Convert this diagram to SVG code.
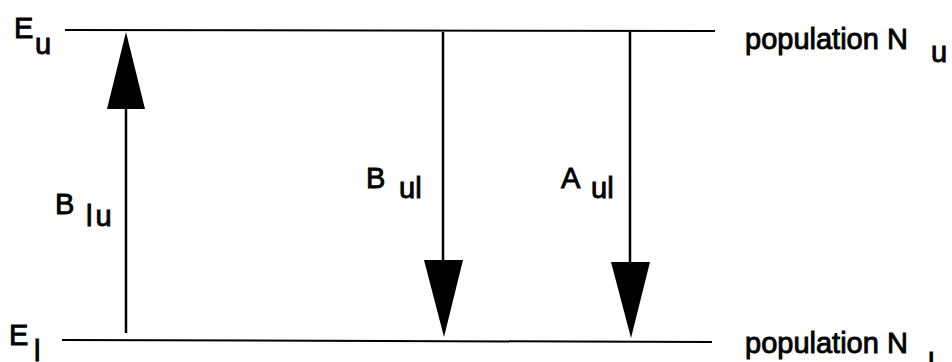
<svg xmlns="http://www.w3.org/2000/svg" width="952" height="362" viewBox="0 0 952 362">
<style>
.lvl{stroke:#000;stroke-width:2;fill:none}
.ln{stroke:#000;stroke-width:2.5;fill:none}
.hd{fill:#000;stroke:none}
text{font-family:"Liberation Sans",Arial,sans-serif;fill:#000;font-size:29px;stroke:#000;stroke-width:0.9}
</style>
<rect width="952" height="362" fill="#fff"/>
<g id="level-upper">
<line class="lvl" x1="65" y1="30" x2="715" y2="31"/>
<text x="14" y="38">E</text>
<text x="35" y="54">u</text>
<text x="745" y="49">population N</text>
<text x="931" y="62">u</text>
</g>
<g id="level-lower">
<line class="lvl" x1="62" y1="340" x2="712" y2="342"/>
<text x="9" y="345">E</text>
<text x="34" y="361">l</text>
<text x="745" y="353">population N</text>
<text x="928" y="374">l</text>
</g>
<g id="connectors">
<g id="B_lu">
<line class="ln" x1="126" y1="333" x2="126" y2="105"/>
<polygon class="hd" points="126,32 145,109 107,109"/>
<text x="55" y="214">B</text>
<text x="86" y="226" letter-spacing="3">lu</text>
</g>
<g id="B_ul">
<line class="ln" x1="443" y1="32" x2="443" y2="265"/>
<polygon class="hd" points="424,260 463,260 444,337"/>
<text x="366" y="188">B</text>
<text x="399" y="198">ul</text>
</g>
<g id="A_ul">
<line class="ln" x1="630" y1="32" x2="630" y2="266"/>
<polygon class="hd" points="611,262 650,262 631,338"/>
<text x="561" y="188">A</text>
<text x="591" y="198">ul</text>
</g>
</g>
</svg>
